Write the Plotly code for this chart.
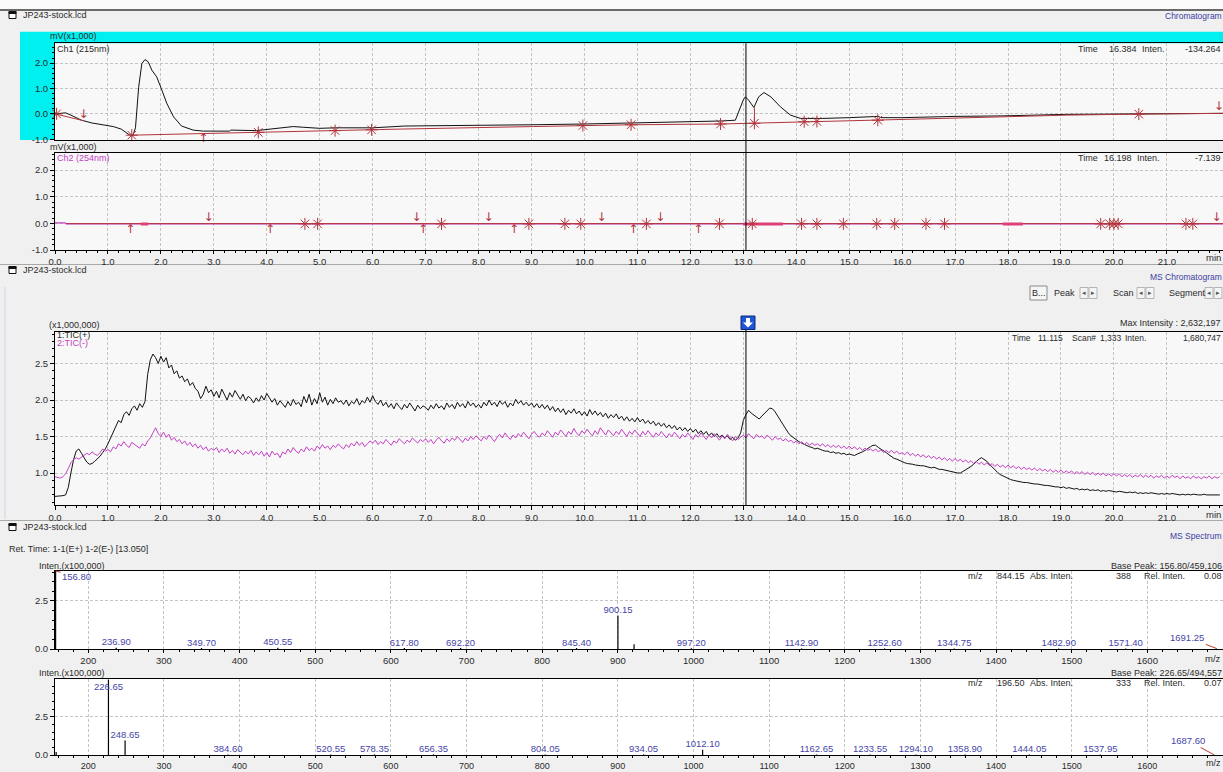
import plotly.graph_objects as go

W, H = 1223, 772
FONT = "Liberation Sans, Arial, sans-serif"
TXT = "#2b2b2b"
LBL_BLUE = "#3d3da3"
PEAK_BLUE = "#4646a8"
MAGENTA = "#c440c4"
RED = "#b3343c"
GRID = "#c4c4c4"

# ---------------- Chromatogram Ch1 (215 nm), mV x1,000 ----------------
ch1_points = [
    (0.00, 0.00), (0.10, 0.03), (0.20, 0.04), (0.30, -0.05), (0.50, -0.25),
    (0.70, -0.36), (0.90, -0.44), (1.10, -0.50), (1.25, -0.60), (1.40, -0.82),
    (1.47, -0.86), (1.52, -0.55), (1.58, 1.05), (1.64, 1.98), (1.70, 2.14),
    (1.76, 2.05), (1.83, 1.72), (1.92, 1.46), (2.02, 0.93), (2.11, 0.42),
    (2.24, -0.12), (2.39, -0.48), (2.61, -0.64), (2.80, -0.68), (3.30, -0.68),
    (3.32, -0.64), (3.80, -0.66), (4.20, -0.57), (4.50, -0.50), (4.70, -0.53),
    (5.00, -0.57), (5.30, -0.55), (6.00, -0.55), (6.60, -0.48), (7.50, -0.47),
    (9.00, -0.43), (10.0, -0.40), (11.7, -0.33), (12.6, -0.28), (12.85, -0.25),
    (12.93, 0.15), (13.00, 0.55), (13.04, 0.67), (13.10, 0.54), (13.20, 0.25),
    (13.29, 0.67), (13.39, 0.84), (13.52, 0.67), (13.70, 0.28), (13.89, -0.05),
    (14.08, -0.18), (14.50, -0.18), (15.00, -0.15), (15.35, -0.10), (15.55, -0.10),
    (15.60, -0.15), (16.00, -0.15), (17.00, -0.10), (17.90, -0.08), (19.10, -0.02),
    (20.40, 0.00), (22.06, 0.02),
]
ch1_baseline = [
    (0.00, 0.00), (0.54, -0.27), (None, None),
    (1.45, -0.84), (2.80, -0.77), (3.84, -0.73), (5.29, -0.66), (5.98, -0.63),
    (6.52, -0.60), (9.04, -0.50), (9.97, -0.46), (10.88, -0.43), (12.57, -0.40),
    (13.21, -0.37), (14.15, -0.31), (15.00, -0.27), (16.00, -0.22), (17.86, -0.12),
    (19.10, -0.05), (20.47, -0.01), (22.06, 0.02),
]
# (time, level, kind)  kind: b = start/end, d = drop from above, u = rise from below
ch1_marks = [
    (0.03, 0.00, "b"), (0.54, -0.27, "d"), (1.45, -0.84, "b"), (2.80, -0.77, "u"),
    (3.84, -0.73, "b"), (5.29, -0.66, "b"), (5.98, -0.63, "b"), (9.97, -0.46, "b"),
    (10.88, -0.43, "b"), (12.57, -0.40, "b"), (13.21, -0.37, "b"), (14.15, -0.31, "b"),
    (14.39, -0.30, "b"), (15.54, -0.25, "b"), (20.47, -0.01, "b"), (21.98, 0.02, "d"),
]
ch1_drop = [(13.21, 0.25), (13.21, -0.37)]

# ---------------- Chromatogram Ch2 (254 nm) ----------------
ch2_points = [(0.00, 0.02), (0.19, 0.02), (0.21, -0.02), (22.06, -0.02)]
ch2_baseline = [(0.21, -0.01), (22.06, -0.01)]
ch2_highlight = [(1.62, 1.76), (13.00, 13.75), (17.90, 18.28)]
ch2_level = -0.02
ch2_marks = [
    (1.42, "u"), (2.90, "d"), (4.06, "u"), (4.72, "b"), (4.96, "b"), (6.83, "d"),
    (6.95, "u"), (7.30, "b"), (8.19, "d"), (8.67, "u"), (8.95, "b"), (9.63, "b"),
    (9.93, "b"), (10.32, "d"), (10.92, "u"), (11.17, "b"), (11.43, "d"), (12.15, "u"),
    (12.55, "b"), (13.17, "b"), (14.10, "b"), (14.39, "b"), (14.89, "b"), (15.52, "b"),
    (15.86, "b"), (16.45, "b"), (16.80, "b"), (19.75, "b"), (19.92, "b"), (20.00, "b"),
    (20.08, "b"), (21.36, "b"), (21.49, "b"), (21.94, "d"),
]

# ---------------- MS chromatogram (x1,000,000), 0.05 min sampling, one row per minute ----------------
tic_step = 0.05
tic_pos = [
    0.68, 0.68, 0.68, 0.69, 0.70, 0.80, 1.00, 1.18, 1.30, 1.33, 1.27, 1.20, 1.15, 1.12, 1.13, 1.16, 1.19, 1.23, 1.28, 1.33,
    1.40, 1.48, 1.56, 1.64, 1.72, 1.69, 1.80, 1.84, 1.79, 1.88, 1.92, 1.86, 1.95, 1.90, 1.98, 2.35, 2.55, 2.63, 2.58, 2.50,
    2.60, 2.52, 2.58, 2.44, 2.48, 2.36, 2.40, 2.30, 2.33, 2.25, 2.29, 2.20, 2.24, 2.16, 2.12, 2.02, 2.08, 2.19, 2.10, 2.14,
    2.05, 2.12, 2.03, 2.15, 2.07, 2.00, 2.10, 2.04, 2.13, 2.06, 2.01, 2.08, 1.99, 2.05, 2.02, 1.96, 2.03, 1.98, 2.06, 2.00,
    2.09, 2.03, 1.97, 2.02, 1.93, 1.99, 1.95, 1.90, 1.98, 1.92, 2.01, 1.94, 1.97, 1.91, 2.05, 1.96, 2.08, 1.93, 2.02, 1.95,
    2.10, 1.97, 2.04, 1.93, 2.01, 1.95, 2.03, 1.97, 1.99, 1.94, 2.00, 1.92, 1.98, 1.95, 2.02, 1.93, 1.99, 1.96, 2.04, 1.97,
    2.06, 1.98, 1.94, 2.00, 1.92, 1.97, 1.90, 1.95, 1.88, 1.96, 1.91, 1.87, 1.94, 1.89, 1.96, 1.90, 1.85, 1.93, 1.88, 1.92,
    1.90, 1.86, 1.93, 1.88, 1.95, 1.89, 1.92, 1.87, 1.96, 1.90, 1.94, 1.88, 1.97, 1.91, 1.95, 1.89, 1.98, 1.92, 1.96, 1.90,
    1.94, 1.89, 1.97, 1.92, 2.00, 1.93, 1.97, 1.91, 1.99, 1.94, 1.98, 1.90, 1.96, 1.92, 2.01, 1.95, 1.99, 1.93, 1.97, 1.92,
    1.96, 1.90, 1.95, 1.89, 1.94, 1.88, 1.93, 1.86, 1.91, 1.84, 1.89, 1.83, 1.88, 1.80, 1.86, 1.82, 1.88, 1.81, 1.85, 1.79,
    1.84, 1.78, 1.87, 1.80, 1.85, 1.79, 1.83, 1.77, 1.82, 1.75, 1.80, 1.76, 1.81, 1.74, 1.78, 1.72, 1.77, 1.71, 1.75, 1.70,
    1.76, 1.70, 1.74, 1.68, 1.72, 1.67, 1.71, 1.65, 1.69, 1.64, 1.68, 1.62, 1.66, 1.61, 1.65, 1.59, 1.63, 1.58, 1.62, 1.57,
    1.61, 1.56, 1.60, 1.54, 1.58, 1.53, 1.57, 1.51, 1.55, 1.50, 1.54, 1.49, 1.52, 1.48, 1.51, 1.46, 1.49, 1.45, 1.48, 1.55,
    1.72, 1.80, 1.86, 1.82, 1.79, 1.76, 1.74, 1.78, 1.82, 1.86, 1.89, 1.88, 1.84, 1.78, 1.72, 1.66, 1.60, 1.55, 1.51, 1.48,
    1.46, 1.43, 1.41, 1.39, 1.38, 1.36, 1.35, 1.33, 1.34, 1.32, 1.31, 1.30, 1.30, 1.28, 1.29, 1.27, 1.28, 1.26, 1.27, 1.25,
    1.26, 1.25, 1.24, 1.26, 1.27, 1.29, 1.31, 1.34, 1.36, 1.38, 1.38, 1.35, 1.33, 1.30, 1.28, 1.25, 1.22, 1.20, 1.19, 1.17,
    1.16, 1.14, 1.13, 1.13, 1.12, 1.11, 1.10, 1.10, 1.10, 1.09, 1.08, 1.07, 1.08, 1.06, 1.05, 1.05, 1.04, 1.03, 1.03, 1.02,
    1.01, 1.00, 1.00, 1.02, 1.04, 1.06, 1.09, 1.12, 1.16, 1.19, 1.21, 1.19, 1.16, 1.12, 1.08, 1.04, 1.01, 0.98, 0.96, 0.94,
    0.93, 0.91, 0.90, 0.89, 0.89, 0.88, 0.87, 0.87, 0.86, 0.86, 0.85, 0.85, 0.84, 0.84, 0.83, 0.83, 0.82, 0.82, 0.81, 0.81,
    0.80, 0.81, 0.79, 0.80, 0.79, 0.78, 0.79, 0.77, 0.78, 0.77, 0.78, 0.76, 0.77, 0.76, 0.77, 0.75, 0.76, 0.75, 0.76, 0.75,
    0.75, 0.74, 0.75, 0.74, 0.74, 0.73, 0.74, 0.73, 0.74, 0.72, 0.73, 0.72, 0.73, 0.72, 0.73, 0.72, 0.72, 0.71, 0.72, 0.71,
    0.72, 0.71, 0.72, 0.71, 0.71, 0.70, 0.71, 0.70, 0.71, 0.70, 0.71, 0.70, 0.70, 0.70, 0.71, 0.70, 0.70, 0.70, 0.70, 0.70,
    0.70,
]
tic_neg = [
    0.95, 0.94, 0.93, 0.95, 0.99, 1.06, 1.14, 1.18, 1.21, 1.19, 1.22, 1.24, 1.27, 1.25, 1.29, 1.26, 1.24, 1.28, 1.33, 1.30,
    1.32, 1.29, 1.36, 1.33, 1.40, 1.37, 1.43, 1.38, 1.35, 1.42, 1.39, 1.36, 1.34, 1.40, 1.37, 1.44, 1.48, 1.55, 1.62, 1.54,
    1.50, 1.56, 1.49, 1.53, 1.45, 1.49, 1.43, 1.46, 1.40, 1.44, 1.38, 1.42, 1.36, 1.40, 1.34, 1.38, 1.32, 1.36, 1.30, 1.34,
    1.31, 1.35, 1.28, 1.33, 1.29, 1.34, 1.27, 1.31, 1.26, 1.32, 1.28, 1.25, 1.30, 1.26, 1.31, 1.24, 1.29, 1.25, 1.30, 1.23,
    1.28, 1.22, 1.30, 1.25, 1.27, 1.21, 1.29, 1.26, 1.33, 1.28, 1.35, 1.30, 1.27, 1.33, 1.29, 1.36, 1.31, 1.34, 1.30, 1.37,
    1.33, 1.39, 1.34, 1.37, 1.32, 1.38, 1.35, 1.40, 1.36, 1.33, 1.39, 1.35, 1.41, 1.37, 1.43, 1.38, 1.42, 1.36, 1.40, 1.44,
    1.41, 1.45, 1.39, 1.43, 1.40, 1.46, 1.42, 1.38, 1.44, 1.41, 1.47, 1.43, 1.40, 1.45, 1.42, 1.48, 1.44, 1.41, 1.46, 1.43,
    1.47, 1.42, 1.46, 1.40, 1.45, 1.49, 1.44, 1.41, 1.47, 1.43, 1.48, 1.45, 1.50, 1.46, 1.42, 1.48, 1.44, 1.50, 1.46, 1.51,
    1.47, 1.44, 1.50, 1.46, 1.52, 1.47, 1.43, 1.49, 1.53, 1.48, 1.55, 1.50, 1.46, 1.52, 1.48, 1.54, 1.50, 1.56, 1.51, 1.47,
    1.53, 1.57, 1.52, 1.49, 1.55, 1.51, 1.58, 1.53, 1.49, 1.56, 1.52, 1.59, 1.54, 1.50, 1.57, 1.53, 1.61, 1.55, 1.51, 1.58,
    1.54, 1.60, 1.55, 1.51, 1.58, 1.53, 1.62, 1.56, 1.52, 1.59, 1.55, 1.51, 1.57, 1.53, 1.60, 1.55, 1.50, 1.57, 1.53, 1.59,
    1.54, 1.50, 1.57, 1.52, 1.58, 1.53, 1.49, 1.55, 1.51, 1.57, 1.52, 1.48, 1.54, 1.50, 1.56, 1.51, 1.47, 1.53, 1.49, 1.55,
    1.50, 1.46, 1.53, 1.49, 1.55, 1.50, 1.46, 1.52, 1.48, 1.54, 1.49, 1.45, 1.51, 1.47, 1.53, 1.48, 1.44, 1.50, 1.46, 1.49,
    1.52, 1.48, 1.54, 1.50, 1.47, 1.53, 1.49, 1.51, 1.47, 1.52, 1.48, 1.45, 1.50, 1.46, 1.48, 1.44, 1.47, 1.43, 1.45, 1.41,
    1.44, 1.40, 1.43, 1.39, 1.42, 1.38, 1.41, 1.38, 1.40, 1.37, 1.40, 1.36, 1.39, 1.35, 1.38, 1.35, 1.38, 1.34, 1.37, 1.33,
    1.37, 1.33, 1.36, 1.32, 1.35, 1.31, 1.34, 1.31, 1.33, 1.30, 1.33, 1.29, 1.32, 1.28, 1.31, 1.28, 1.31, 1.27, 1.30, 1.26,
    1.28, 1.25, 1.29, 1.24, 1.27, 1.23, 1.26, 1.22, 1.25, 1.21, 1.24, 1.20, 1.23, 1.19, 1.22, 1.18, 1.21, 1.17, 1.20, 1.16,
    1.20, 1.16, 1.19, 1.15, 1.18, 1.14, 1.17, 1.13, 1.16, 1.12, 1.15, 1.11, 1.14, 1.10, 1.13, 1.09, 1.12, 1.08, 1.11, 1.07,
    1.11, 1.07, 1.10, 1.06, 1.09, 1.05, 1.08, 1.05, 1.07, 1.04, 1.07, 1.03, 1.06, 1.03, 1.05, 1.02, 1.05, 1.01, 1.04, 1.01,
    1.04, 1.00, 1.03, 1.00, 1.03, 0.99, 1.02, 0.99, 1.02, 0.98, 1.01, 0.98, 1.01, 0.97, 1.00, 0.97, 1.00, 0.96, 0.99, 0.96,
    0.99, 0.96, 0.99, 0.95, 0.98, 0.95, 0.98, 0.94, 0.97, 0.95, 0.98, 0.94, 0.97, 0.94, 0.97, 0.93, 0.96, 0.94, 0.97, 0.93,
    0.96, 0.93, 0.97, 0.94, 0.96, 0.92, 0.96, 0.93, 0.95, 0.92, 0.96, 0.93, 0.95, 0.92, 0.95, 0.93, 0.96, 0.92, 0.95, 0.93,
    0.95,
]
cursor_time = 13.05

# ---------------- MS spectra (Inten. x100,000) ----------------
spec1_mz = [156.80, 236.90, 349.70, 450.55, 617.80, 692.20, 845.40, 900.15, 921.50,
            997.20, 1142.90, 1252.60, 1344.75, 1482.90, 1571.40, 1691.25]
spec1_int = [4.59, 0.06, 0.05, 0.06, 0.05, 0.05, 0.05, 1.75, 0.25,
             0.04, 0.03, 0.03, 0.03, 0.03, 0.03, 0.03]
spec1_labels = ["156.80", "236.90", "349.70", "450.55", "617.80", "692.20", "845.40", "900.15", "",
                "997.20", "1142.90", "1252.60", "1344.75", "1482.90", "1571.40", "1691.25"]

spec2_mz = [157.50, 226.65, 248.65, 384.60, 520.55, 578.35, 656.35, 804.05, 934.05,
            1012.10, 1162.65, 1233.55, 1294.10, 1358.90, 1444.05, 1537.95, 1687.60]
spec2_int = [0.20, 4.95, 0.95, 0.04, 0.04, 0.04, 0.04, 0.04, 0.04,
             0.35, 0.03, 0.03, 0.03, 0.03, 0.03, 0.03, 0.03]
spec2_labels = ["", "226.65", "248.65", "384.60", "520.55", "578.35", "656.35", "804.05", "934.05",
                "1012.10", "1162.65", "1233.55", "1294.10", "1358.90", "1444.05", "1537.95", "1687.60"]

chrom_ticks = [float(i) for i in range(0, 22)]
ms_ticks = [200, 300, 400, 500, 600, 700, 800, 900, 1000, 1100, 1200, 1300, 1400, 1500, 1600]

# ======================================================================
def yd(top, bottom):
    return [1 - bottom / H, 1 - top / H]

def px(x):
    return x / W

def py(y):
    return 1 - y / H

XDOM = [55 / W, 1.0]

fig = go.Figure()

def unzip(pairs):
    return [p[0] for p in pairs], [p[1] for p in pairs]

# ---- panel 1
x, y = unzip(ch1_points)
fig.add_trace(go.Scatter(x=x, y=y, mode="lines", line=dict(color="#111111", width=1), xaxis="x", yaxis="y"))
x, y = unzip(ch1_baseline)
fig.add_trace(go.Scatter(x=x, y=y, mode="lines", line=dict(color=RED, width=1), xaxis="x", yaxis="y",
                         connectgaps=False))
x, y = unzip(ch1_drop)
fig.add_trace(go.Scatter(x=x, y=y, mode="lines", line=dict(color=RED, width=1), xaxis="x", yaxis="y"))


def add_marks(marks, xa, ya):
    for kind, sym in (("b", None), ("d", "↓"), ("u", "↑")):
        sel = [m for m in marks if m[2] == kind]
        if not sel:
            continue
        xs = [m[0] for m in sel]
        ys = [m[1] for m in sel]
        if kind == "b":
            fig.add_trace(go.Scatter(x=xs, y=ys, mode="markers", xaxis=xa, yaxis=ya, cliponaxis=False,
                                     marker=dict(symbol="asterisk-open", size=10, color=RED,
                                                 line=dict(color=RED, width=1))))
        else:
            fig.add_trace(go.Scatter(x=xs, y=ys, mode="text", xaxis=xa, yaxis=ya, cliponaxis=False,
                                     text=[sym] * len(xs),
                                     textposition="top center" if kind == "d" else "bottom center",
                                     textfont=dict(color=RED, size=12, family="DejaVu Sans")))


add_marks(ch1_marks, "x", "y")

# ---- panel 2
x, y = unzip(ch2_points)
fig.add_trace(go.Scatter(x=x, y=y, mode="lines", line=dict(color=MAGENTA, width=1.2), xaxis="x2", yaxis="y2"))
x, y = unzip(ch2_baseline)
fig.add_trace(go.Scatter(x=x, y=y, mode="lines", line=dict(color=RED, width=1), xaxis="x2", yaxis="y2"))
hx, hy = [], []
for a, b in ch2_highlight:
    hx += [a, b, None]
    hy += [ch2_level, ch2_level, None]
fig.add_trace(go.Scatter(x=hx, y=hy, mode="lines", line=dict(color="#e0407a", width=3), xaxis="x2", yaxis="y2"))
add_marks([(t, ch2_level, k) for t, k in ch2_marks], "x2", "y2")

# ---- panel 3
fig.add_trace(go.Scatter(x=[round(i * tic_step, 3) for i in range(len(tic_pos))], y=tic_pos, mode="lines",
                         line=dict(color="#111111", width=1), xaxis="x3", yaxis="y3"))
fig.add_trace(go.Scatter(x=[round(i * tic_step, 3) for i in range(len(tic_neg))], y=tic_neg, mode="lines",
                         line=dict(color=MAGENTA, width=1), xaxis="x3", yaxis="y3"))


# ---- spectra
def add_spectrum(mz, inten, labels, xa, ya, skip):
    bx, by = [], []
    for m, h in zip(mz, inten):
        bx += [m, m, None]
        by += [0, h, None]
    fig.add_trace(go.Scatter(x=bx, y=by, mode="lines", line=dict(color="#000000", width=1.2), xaxis=xa, yaxis=ya))
    lx = [m for m, l in zip(mz, labels) if l and l not in skip]
    ly = [h for h, l in zip(inten, labels) if l and l not in skip]
    lt = [l for l in labels if l and l not in skip]
    fig.add_trace(go.Scatter(x=lx, y=ly, mode="text", text=lt, textposition="top center", xaxis=xa, yaxis=ya,
                             cliponaxis=False, textfont=dict(color=PEAK_BLUE, size=9.5, family=FONT)))


add_spectrum(spec1_mz, spec1_int, spec1_labels, "x4", "y4", {"156.80", "1691.25"})
add_spectrum(spec2_mz, spec2_int, spec2_labels, "x5", "y5", {"226.65", "1687.60"})

# ---------------- axes ----------------
tickfont = dict(family=FONT, size=9.5, color=TXT)


def xaxis(anchor, rng, tickvals, ticktext, minor_dt, labels=True, tlen=4, fsize=9.5):
    return dict(domain=XDOM, anchor=anchor, range=rng, showline=True, linecolor="#000", linewidth=1,
                mirror=True, showgrid=True, gridcolor=GRID, griddash="3px,2px", gridwidth=1,
                tickmode="array", tickvals=tickvals, ticktext=ticktext, showticklabels=labels,
                ticks="outside" if labels else "", ticklen=tlen, tickcolor="#000",
                tickfont=dict(family=FONT, size=fsize, color=TXT),
                zeroline=False, fixedrange=True, automargin=False,
                minor=dict(ticks="outside" if labels else "", ticklen=2, tickcolor="#000",
                           tickmode="linear", tick0=0, dtick=minor_dt, showgrid=False))


def yaxis(anchor, dom, rng, tickvals, minor_dt, fmt):
    return dict(domain=dom, anchor=anchor, range=rng, showline=True, linecolor="#000", linewidth=1,
                showgrid=True, gridcolor=GRID, griddash="3px,2px", gridwidth=1, zeroline=False,
                tickmode="array", tickvals=tickvals, ticktext=[fmt.format(v) for v in tickvals],
                ticks="outside", ticklen=4, tickcolor="#000", tickfont=tickfont, fixedrange=True,
                automargin=False,
                minor=dict(ticks="outside", ticklen=2, tickcolor="#000", tickmode="linear",
                           tick0=0, dtick=minor_dt, showgrid=False))


chrom_text = ["{:.1f}".format(v) for v in chrom_ticks]
ms_text = [str(v) for v in ms_ticks]
CHR_RANGE = [0, 22.06]
MS_RANGE = [156, 1700]
SPEC2_TOP, SPEC2_BOT = 679, 755

fig.update_layout(
    xaxis=xaxis("y", CHR_RANGE, chrom_ticks, chrom_text, 0.2, labels=False),
    yaxis=yaxis("x", yd(43.3, 140), [-1.03, 2.78], [-1.0, 0.0, 1.0, 2.0], 0.2, "{:.1f}"),
    xaxis2=xaxis("y2", CHR_RANGE, chrom_ticks, chrom_text, 0.2, tlen=3),
    yaxis2=yaxis("x2", yd(152.7, 250), [-1.0, 2.65], [-1.0, 0.0, 1.0, 2.0], 0.2, "{:.1f}"),
    xaxis3=xaxis("y3", CHR_RANGE, chrom_ticks, chrom_text, 0.2),
    yaxis3=yaxis("x3", yd(331.7, 505), [0.562, 2.936], [1.0, 1.5, 2.0, 2.5], 0.1, "{:.1f}"),
    xaxis4=xaxis("y4", MS_RANGE, ms_ticks, ms_text, 20, tlen=3),
    yaxis4=yaxis("x4", yd(571, 649), [0, 4.06], [0.0, 2.5], 0.5, "{:.1f}"),
    xaxis5=xaxis("y5", MS_RANGE, ms_ticks, ms_text, 20, tlen=2, fsize=9),
    yaxis5=yaxis("x5", yd(SPEC2_TOP, SPEC2_BOT), [0, 4.98], [0.0, 2.5], 0.5, "{:.1f}"),
)

# ---------------- shapes ----------------
shapes = []


def rect(x0, y0, x1, y1, fill, line=None, layer="below", lw=1):
    shapes.append(dict(type="rect", xref="paper", yref="paper", x0=px(x0), x1=px(x1), y0=py(y0), y1=py(y1),
                       fillcolor=fill, line=dict(color=line or fill, width=lw if line else 0), layer=layer))


def hline(x0, x1, y, color, w=1, layer="below"):
    shapes.append(dict(type="line", xref="paper", yref="paper", x0=px(x0), x1=px(x1), y0=py(y), y1=py(y),
                       line=dict(color=color, width=w), layer=layer))


rect(0, 0, W, 9, "#fbfbfb")
hline(0, W, 10, "#6a6a6a", 2)
rect(20, 31.7, W, 140, "#00f0f0")
for t, b, c in ((43.3, 140, "#f8f8f8"), (152.7, 250, "#f8f8f8"), (331.7, 505, "#f8f8f8"),
                (571, 649, "#ffffff"), (SPEC2_TOP, SPEC2_BOT, "#ffffff")):
    rect(55, t, W, b, c)
hline(0, W, 264.5, "#a9a9a9", 1)
hline(0, W, 520.5, "#a9a9a9", 1)
shapes.append(dict(type="line", xref="paper", yref="paper", x0=px(5), x1=px(5), y0=py(287), y1=py(519),
                   line=dict(color="#c9d6e4", width=1), layer="below"))

# file icons
for yy in (15, 270, 527):
    rect(9, yy - 3.5, 16, yy + 3.5, "#ffffff", "#111111", layer="above")
    rect(9, yy - 3.5, 16, yy - 1.5, "#111111", "#111111", layer="above")

# cursor lines
shapes.append(dict(type="line", xref="x2", yref="paper", x0=cursor_time, x1=cursor_time,
                   y0=py(250), y1=py(43.3), line=dict(color="#000", width=1), layer="above"))
shapes.append(dict(type="line", xref="x3", yref="paper", x0=cursor_time, x1=cursor_time,
                   y0=py(505), y1=py(329), line=dict(color="#000", width=1), layer="above"))

# blue cursor marker
rect(741, 316, 755, 329.5, "#1e56d6", "#0b2a7a", layer="above")
arrow_pts = [(746, 318), (750, 318), (750, 322.5), (753, 322.5), (748, 327.5), (743, 322.5), (746, 322.5)]
path = "M " + " L ".join("{:.5f},{:.5f}".format(px(a), py(b)) for a, b in arrow_pts) + " Z"
shapes.append(dict(type="path", xref="paper", yref="paper", path=path, fillcolor="#ffffff",
                   line=dict(color="#ffffff", width=0), layer="above"))

# toolbar buttons
rect(1030, 286, 1047, 300, "#f6f6f6", "#8a8a8a", layer="above")
for a in (1080, 1089, 1137, 1146, 1205, 1214):
    rect(a, 287.5, a + 8, 298.5, "#f4f4f4", "#b5b5b5", layer="above")

fig.update_layout(shapes=shapes)

# ---------------- annotations ----------------
ann = []


def txt(x, y, s, anchor="left", color=TXT, size=9, family=FONT):
    ann.append(dict(x=px(x), y=py(y), xref="paper", yref="paper", text=s, showarrow=False, xanchor=anchor,
                    yanchor="middle", borderpad=0, font=dict(family=family, size=size, color=color)))


# headers
txt(22, 15, "JP243-stock.lcd", size=9)
txt(1223, 16, "Chromatogram", "right", LBL_BLUE, 8.5)
txt(22, 270, "JP243-stock.lcd", size=9)
txt(1223, 277, "MS Chromatogram", "right", LBL_BLUE, 8.5)
txt(22, 527, "JP243-stock.lcd", size=9)
txt(1223, 536, "MS Spectrum", "right", LBL_BLUE, 8.5)

# panel 1
txt(49, 36.5, "mV(x1,000)")
txt(56, 48.5, "Ch1 (215nm)")
txt(1077, 48.5, "Time")
txt(1108, 48.5, "16.384")
txt(1141, 48.5, "Inten.")
txt(1222, 48.5, "-134.264", "right")

# panel 2
txt(49, 146.5, "mV(x1,000)")
txt(56, 157.5, "Ch2 (254nm)", color=MAGENTA)
txt(1077, 158, "Time")
txt(1103, 158, "16.198")
txt(1136, 158, "Inten.")
txt(1222, 158, "-7.139", "right")
txt(1222, 257.5, "min", "right", size=9.5)

# panel 3
txt(1038.5, 293, "B...", "center")
txt(1064, 293, "Peak", "center")
txt(1123, 293, "Scan", "center")
txt(1187, 293, "Segment", "center")
for a, g in ((1080, "◂"), (1089, "▸"), (1137, "◂"), (1146, "▸"), (1205, "◂"), (1214, "▸")):
    txt(a + 4, 293, g, "center", "#555555", 7, "DejaVu Sans")
txt(48, 325.5, "(x1,000,000)")
txt(56, 335, "1:TIC(+)")
txt(56, 342.5, "2:TIC(-)", color=MAGENTA)
txt(1222, 323, "Max Intensity : 2,632,197", "right")
txt(1011, 338, "Time", size=8.5)
txt(1037, 338, "11.115", size=8.5)
txt(1071, 338, "Scan#", size=8.5)
txt(1099, 338, "1,333", size=8.5)
txt(1124, 338, "Inten.", size=8.5)
txt(1222, 338, "1,680,747", "right", size=8.5)
txt(1222, 514, "min", "right", size=9.5)

# spectra
txt(8, 549, "Ret. Time: 1-1(E+) 1-2(E-) [13.050]")
txt(38, 566, "Inten.(x100,000)")
txt(1223, 566, "Base Peak: 156.80/459,106", "right")
for xx, s, an in ((967, "m/z", "left"), (996, "844.15", "left"), (1029, "Abs. Inten.", "left"),
                  (1132, "388", "right"), (1143, "Rel. Inten.", "left"), (1223, "0.08", "right")):
    txt(xx, 576, s, an)
txt(1222, 658, "m/z", "right", size=9.5)

txt(38, SPEC2_TOP - 6, "Inten.(x100,000)")
txt(1223, SPEC2_TOP - 6, "Base Peak: 226.65/494,557", "right")
for xx, s, an in ((967, "m/z", "left"), (996, "196.50", "left"), (1029, "Abs. Inten.", "left"),
                  (1132, "333", "right"), (1143, "Rel. Inten.", "left"), (1223, "0.07", "right")):
    txt(xx, SPEC2_TOP + 4, s, an)
txt(1222, SPEC2_BOT + 8, "m/z", "right", size=9)

pk_font = dict(family=FONT, size=9.5, color=PEAK_BLUE)
# base peak 1 (clipped) with leader
ann.append(dict(x=spec1_mz[0], y=4.06, xref="x4", yref="y4", text=spec1_labels[0], showarrow=True,
                arrowhead=0, arrowwidth=1, arrowcolor="#c0392b", ax=21, ay=5, font=pk_font))
ann.append(dict(x=spec1_mz[-1], y=spec1_int[-1], xref="x4", yref="y4", text=spec1_labels[-1], showarrow=True,
                arrowhead=0, arrowwidth=1, arrowcolor="#c0392b", ax=-29, ay=-11, font=pk_font))
ann.append(dict(x=spec2_mz[1], y=4.98, xref="x5", yref="y5", text=spec2_labels[1], showarrow=False,
                yanchor="top", font=pk_font))
ann.append(dict(x=spec2_mz[-1], y=spec2_int[-1], xref="x5", yref="y5", text=spec2_labels[-1], showarrow=True,
                arrowhead=0, arrowwidth=1, arrowcolor="#c0392b", ax=-26, ay=-14, font=pk_font))

fig.update_layout(
    annotations=ann,
    width=W, height=H, autosize=False,
    margin=dict(l=0, r=0, t=0, b=0, pad=0),
    paper_bgcolor="#f0f0f0", plot_bgcolor="rgba(0,0,0,0)",
    showlegend=False,
    font=dict(family=FONT, size=10, color=TXT),
)

fig.write_html("out.html")
